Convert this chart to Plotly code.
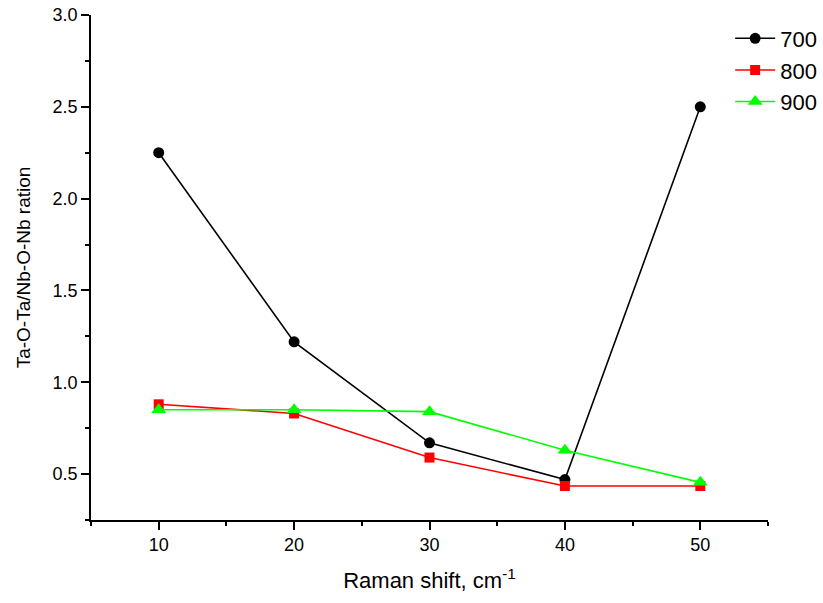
import plotly.graph_objects as go

x_vals = [10, 20, 30, 40, 50]
s700 = [2.25, 1.22, 0.67, 0.47, 2.50]
s800 = [0.88, 0.83, 0.59, 0.435, 0.435]
s900 = [0.85, 0.85, 0.84, 0.63, 0.455]
names = ["700", "800", "900"]
colors = ["#000000", "#ff0000", "#00ff00"]
symbols = ["circle", "square", "triangle-up"]
sizes = [11, 10, 13]

fig = go.Figure()
for name, ys, c, sym, sz in zip(names, [s700, s800, s900], colors, symbols, sizes):
    fig.add_trace(go.Scatter(
        x=x_vals, y=ys, name=name, mode="lines+markers",
        line=dict(color=c, width=1.6),
        marker=dict(symbol=sym, size=sz, color=c),
    ))

FONT = "Liberation Sans, Arial, sans-serif"

axis_common = dict(
    showline=True, linecolor="black", linewidth=1.5,
    ticks="outside", ticklen=8, tickwidth=1.5, tickcolor="black",
    showgrid=False, zeroline=False, mirror=False,
    tickfont=dict(family=FONT, size=18, color="black"),
)

fig.update_layout(
    width=823, height=603,
    paper_bgcolor="white", plot_bgcolor="white",
    margin=dict(l=91, r=55, t=15, b=83, autoexpand=False),
    font=dict(family=FONT, color="black"),
    xaxis=dict(
        range=[5, 55], tickvals=[10, 20, 30, 40, 50],
        minor=dict(ticks="outside", ticklen=4, tickwidth=1.5, tickcolor="black", dtick=5, tick0=5),
        title=dict(text="Raman shift, cm<sup>-1</sup>", font=dict(family=FONT, size=22), standoff=18),
        **axis_common,
    ),
    yaxis=dict(
        range=[0.25, 3.0], tickvals=[0.5, 1.0, 1.5, 2.0, 2.5, 3.0], tickformat=".1f",
        minor=dict(ticks="outside", ticklen=4, tickwidth=1.5, tickcolor="black", dtick=0.25, tick0=0.25),
        title=dict(text="Ta-O-Ta/Nb-O-Nb ration", font=dict(family=FONT, size=19), standoff=17),
        **axis_common,
    ),
    legend=dict(
        x=1.08, y=0.995, xanchor="right", yanchor="top",
        bgcolor="rgba(0,0,0,0)", font=dict(family=FONT, size=22), tracegroupgap=0,
        itemwidth=40,
    ),
)

fig.write_html("out.html")
